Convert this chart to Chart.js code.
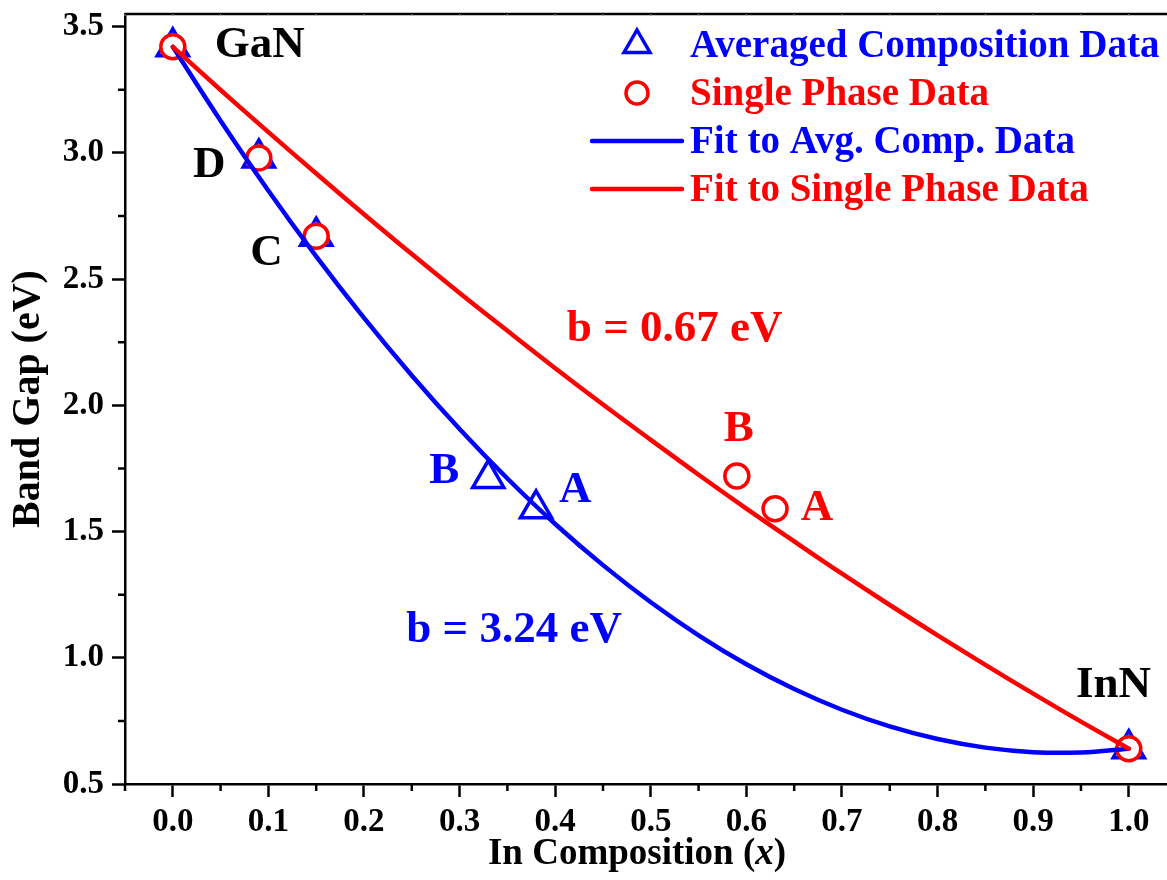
<!DOCTYPE html>
<html>
<head>
<meta charset="utf-8">
<script src="https://cdn.jsdelivr.net/npm/chart.js@4.4.1/dist/chart.umd.min.js"></script>
<style>
  html, body { margin: 0; padding: 0; background: #fff; }
  #wrap { width: 1167px; height: 880px; }
</style>
</head>
<body>
<div id="wrap"><canvas id="chart" width="1167" height="880"></canvas></div>
<script>
// band gap vs In composition (InGaN)
const FIT_X = [0, 0.05, 0.1, 0.15, 0.2, 0.25, 0.3, 0.35, 0.4, 0.45, 0.5, 0.55, 0.6, 0.65, 0.7, 0.75, 0.8, 0.85, 0.9, 0.95, 1.0];
const FIT_AVG = [3.420, 3.127, 2.850, 2.590, 2.346, 2.118, 1.906, 1.710, 1.530, 1.367, 1.220, 1.089, 0.974, 0.876, 0.794, 0.728, 0.678, 0.644, 0.626, 0.625, 0.640];
const FIT_SINGLE = [3.420, 3.249, 3.082, 2.918, 2.757, 2.599, 2.445, 2.295, 2.147, 2.003, 1.863, 1.725, 1.591, 1.461, 1.333, 1.209, 1.089, 0.972, 0.858, 0.747, 0.640];

const AVG_X = [0, 0.09, 0.15, 0.33, 0.38, 1.0];
const AVG_E = [3.42, 2.98, 2.67, 1.71, 1.59, 0.64];
const SP_X = [0, 0.09, 0.15, 0.59, 0.63, 1.0];
const SP_E = [3.42, 2.98, 2.67, 1.72, 1.59, 0.64];

const X_TICKS = [0, 0.1, 0.2, 0.3, 0.4, 0.5, 0.6, 0.7, 0.8, 0.9, 1.0];
const Y_TICKS = [0.5, 1.0, 1.5, 2.0, 2.5, 3.0, 3.5];

const BLUE = '#0000ff';
const RED = '#ff0000';
const FONT = "'Liberation Serif', 'Times New Roman', serif";

// text placed in data units
const NOTES = [
  { text: 'GaN', x: 0.091, y: 3.425, color: '#000' },
  { text: 'D', x: 0.038, y: 2.95, color: '#000' },
  { text: 'C', x: 0.098, y: 2.60, color: '#000' },
  { text: 'InN', x: 0.984, y: 0.89, color: '#000' },
  { text: 'b = 0.67 eV', x: 0.525, y: 2.30, color: RED },
  { text: 'B', x: 0.592, y: 1.905, color: RED },
  { text: 'A', x: 0.674, y: 1.59, color: RED },
  { text: 'b = 3.24 eV', x: 0.357, y: 1.11, color: BLUE },
  { text: 'B', x: 0.284, y: 1.738, color: BLUE },
  { text: 'A', x: 0.421, y: 1.663, color: BLUE },
];

const toPts = (xs, ys) => xs.map((x, i) => ({ x, y: ys[i] }));

const frame = {
  id: 'frame',
  afterDraw(chart) {
    const { ctx, chartArea: a, scales: { x, y } } = chart;
    ctx.save();
    ctx.strokeStyle = '#000';
    ctx.lineWidth = 2.5;
    // top border
    ctx.beginPath();
    ctx.moveTo(a.left, a.top);
    ctx.lineTo(a.right, a.top);
    ctx.stroke();
    // minor ticks
    ctx.beginPath();
    for (let v = -0.05; v < 1.04; v += 0.1) {
      const px = x.getPixelForValue(v);
      ctx.moveTo(px, a.bottom);
      ctx.lineTo(px, a.bottom + 7);
    }
    for (let v = 0.75; v < 3.5; v += 0.5) {
      const py = y.getPixelForValue(v);
      ctx.moveTo(a.left, py);
      ctx.lineTo(a.left - 7, py);
    }
    ctx.stroke();
    ctx.lineWidth = 1;
    ctx.strokeStyle = '#999';
    ctx.beginPath();
    for (let v = -0.05; v < 1.04; v += 0.05) {
      const px = x.getPixelForValue(v);
      ctx.moveTo(px, a.top);
      ctx.lineTo(px, a.top + 2);
    }
    ctx.stroke();

    // notes
    ctx.font = `bold 45px ${FONT}`;
    ctx.textAlign = 'center';
    ctx.textBaseline = 'middle';
    NOTES.forEach(n => {
      ctx.fillStyle = n.color;
      ctx.fillText(n.text, x.getPixelForValue(n.x), y.getPixelForValue(n.y));
    });

    // x title with italic x
    const parts = [
      ['In Composition (', `bold 37px ${FONT}`],
      ['x', `italic bold 37px ${FONT}`],
      [')', `bold 37px ${FONT}`],
    ];
    let total = 0;
    parts.forEach(([t, f]) => { ctx.font = f; total += ctx.measureText(t).width; });
    let tx = 637 - total / 2;
    ctx.textAlign = 'left';
    ctx.textBaseline = 'alphabetic';
    ctx.fillStyle = '#000';
    parts.forEach(([t, f]) => { ctx.font = f; ctx.fillText(t, tx, 864); tx += ctx.measureText(t).width; });

    // legend
    const ds = chart.data.datasets;
    const rows = [ds[3], ds[2], ds[0], ds[1]];
    ctx.font = `bold 39px ${FONT}`;
    rows.forEach((d, i) => {
      const cy = a.top + 31 + i * 48;
      ctx.strokeStyle = d.borderColor;
      if (d.showLine) {
        ctx.lineWidth = 4.5;
        ctx.lineCap = 'round';
        ctx.beginPath();
        ctx.moveTo(592, cy);
        ctx.lineTo(682, cy);
        ctx.stroke();
      } else {
        ctx.lineWidth = d.borderWidth;
        ctx.beginPath();
        if (d.pointStyle === 'triangle') {
          const r = 15;
          ctx.moveTo(637, cy - r);
          ctx.lineTo(637 + r * 0.866, cy + r / 2);
          ctx.lineTo(637 - r * 0.866, cy + r / 2);
          ctx.closePath();
        } else {
          ctx.arc(637, cy, 11, 0, Math.PI * 2);
        }
        ctx.stroke();
      }
      ctx.fillStyle = d.borderColor;
      ctx.textBaseline = 'middle';
      ctx.fillText(d.label, 690, cy + 2);
    });
    ctx.restore();
  }
};

new Chart(document.getElementById('chart'), {
  type: 'scatter',
  data: {
    datasets: [
      {
        label: 'Fit to Avg. Comp. Data',
        data: toPts(FIT_X, FIT_AVG),
        showLine: true, borderColor: BLUE, borderWidth: 4.5, pointRadius: 0,
        tension: 0.4, order: 1, borderCapStyle: 'round'
      },
      {
        label: 'Fit to Single Phase Data',
        data: toPts(FIT_X, FIT_SINGLE),
        showLine: true, borderColor: RED, borderWidth: 4.5, pointRadius: 0,
        tension: 0.4, order: 0, borderCapStyle: 'round'
      },
      {
        label: 'Single Phase Data',
        data: toPts(SP_X, SP_E),
        showLine: false, pointStyle: 'circle', pointRadius: 12,
        borderColor: RED, backgroundColor: '#fff', borderWidth: 3.5, order: 2
      },
      {
        label: 'Averaged Composition Data',
        data: toPts(AVG_X, AVG_E),
        showLine: false, pointStyle: 'triangle', pointRadius: 18,
        borderColor: BLUE, backgroundColor: 'rgba(0,0,0,0)', borderWidth: 3.5, order: 3
      }
    ]
  },
  options: {
    responsive: false,
    animation: false,
    layout: { autoPadding: false, padding: { top: 14, right: 0, left: 0, bottom: 0 } },
    plugins: { legend: { display: false }, tooltip: { enabled: false } },
    scales: {
      x: {
        type: 'linear', min: -0.05, max: 1.04,
        afterBuildTicks: s => { s.ticks = X_TICKS.map(v => ({ value: v })); },
        afterFit: s => { s.height = 96; s.paddingLeft = 0; s.paddingRight = 0; },
        grid: { display: true, drawOnChartArea: false, tickLength: 13, tickWidth: 2.5, tickColor: '#000' },
        border: { color: '#000', width: 2.5 },
        ticks: {
          color: '#000', padding: 6, maxRotation: 0,
          font: { family: FONT, size: 33, weight: 'bold' },
          callback: v => v.toFixed(1)
        }
      },
      y: {
        type: 'linear', min: 0.5, max: 3.55,
        afterBuildTicks: s => { s.ticks = Y_TICKS.map(v => ({ value: v })); },
        afterFit: s => { s.width = 125; s.paddingTop = 0; s.paddingBottom = 0; },
        grid: { display: true, drawOnChartArea: false, tickLength: 13, tickWidth: 2.5, tickColor: '#000' },
        border: { color: '#000', width: 2.5 },
        title: {
          display: true, text: 'Band Gap (eV)', color: '#000',
          font: { family: FONT, size: 40, weight: 'bold' },
          padding: { top: 5, bottom: 0 }
        },
        ticks: {
          color: '#000', padding: 8,
          font: { family: FONT, size: 33, weight: 'bold' },
          callback: v => v.toFixed(1)
        }
      }
    }
  },
  plugins: [frame]
});
</script>
</body>
</html>
